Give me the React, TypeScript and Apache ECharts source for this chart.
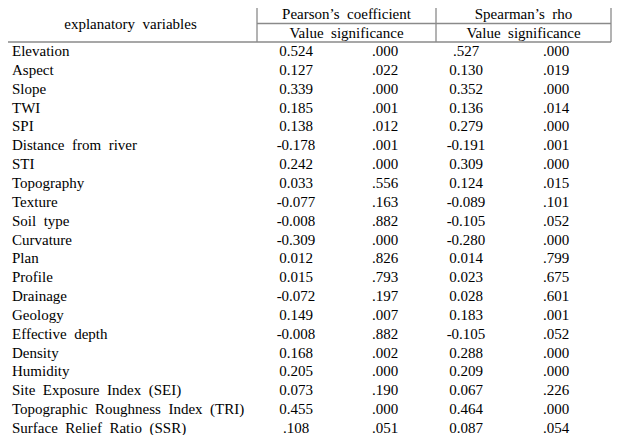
import React, { useEffect, useRef } from "react";
import * as echarts from "echarts";

const variables = [
  "Elevation", "Aspect", "Slope", "TWI", "SPI", "Distance from river", "STI",
  "Topography", "Texture", "Soil type", "Curvature", "Plan", "Profile",
  "Drainage", "Geology", "Effective depth", "Density", "Humidity",
  "Site Exposure Index (SEI)", "Topographic Roughness Index (TRI)",
  "Surface Relief Ratio (SSR)",
];
const pearsonValue = [
  "0.524", "0.127", "0.339", "0.185", "0.138", "-0.178", "0.242", "0.033",
  "-0.077", "-0.008", "-0.309", "0.012", "0.015", "-0.072", "0.149", "-0.008",
  "0.168", "0.205", "0.073", "0.455", ".108",
];
const pearsonSig = [
  ".000", ".022", ".000", ".001", ".012", ".001", ".000", ".556", ".163",
  ".882", ".000", ".826", ".793", ".197", ".007", ".882", ".002", ".000",
  ".190", ".000", ".051",
];
const spearmanValue = [
  ".527", "0.130", "0.352", "0.136", "0.279", "-0.191", "0.309", "0.124",
  "-0.089", "-0.105", "-0.280", "0.014", "0.023", "0.028", "0.183", "-0.105",
  "0.288", "0.209", "0.067", "0.464", "0.087",
];
const spearmanSig = [
  ".000", ".019", ".000", ".014", ".000", ".001", ".000", ".015", ".101",
  ".052", ".000", ".799", ".675", ".601", ".001", ".052", ".000", ".000",
  ".226", ".000", ".054",
];
const headerLeft = "explanatory variables";
const groupHeaders = ["Pearson\u2019s coefficient", "Spearman\u2019s rho"];
const subHeader = "Value significance";

export default function App() {
  const ref = useRef<HTMLDivElement>(null);
  useEffect(() => {
    if (!ref.current) return;
    const chart = echarts.init(ref.current, null, { renderer: "svg" });
    const color = "#000";
    const lineColor = "#8a8a8a";
    const L = 4, R = 611, T = 4, MID = 23.5, HB = 42, B = 438;
    const V1 = 257, V2 = 436;
    const rowY0 = 51, pitch = 18.85;
    const spaced = (s: string) => s.replace(/ /g, "\u00a0\u00a0");
    const els: any[] = [];
    const line = (x1: number, y1: number, x2: number, y2: number) =>
      els.push({ type: "line", shape: { x1, y1, x2, y2 }, style: { stroke: lineColor, lineWidth: 1.3 }, silent: true });
    const text = (s: string, x: number, y: number, align: string) =>
      els.push({
        type: "text", x, y,
        style: {
          text: s, fill: color, fontFamily: "Liberation Serif", fontSize: 15,
          align, verticalAlign: "middle",
        },
        silent: true,
      });
    line(L, T, R, T);
    line(L, T, L, HB);
    line(R, T, R, HB);
    line(V1, T, V1, HB);
    line(V2, T, V2, HB);
    line(V1, MID, R, MID);
    line(L, HB, R, HB);
    line(L, B, R, B);
    text(spaced(headerLeft), (L + V1) / 2, 24, "center");
    text(spaced(groupHeaders[0]), (V1 + V2) / 2, 14, "center");
    text(spaced(groupHeaders[1]), (V2 + R) / 2, 14, "center");
    text(spaced(subHeader), (V1 + V2) / 2, 33, "center");
    text(spaced(subHeader), (V2 + R) / 2, 33, "center");
    variables.forEach((v, i) => {
      const y = rowY0 + i * pitch;
      text(spaced(v), 12, y, "left");
      text(pearsonValue[i], 296, y, "center");
      text(pearsonSig[i], 385, y, "center");
      text(spearmanValue[i], 466, y, "center");
      text(spearmanSig[i], 556, y, "center");
    });
    chart.setOption({ animation: false, backgroundColor: "#fff", graphic: { elements: els } });
    return () => chart.dispose();
  }, []);
  return <div ref={ref} style={{ width: 620, height: 443, margin: -8 }} />;
}
